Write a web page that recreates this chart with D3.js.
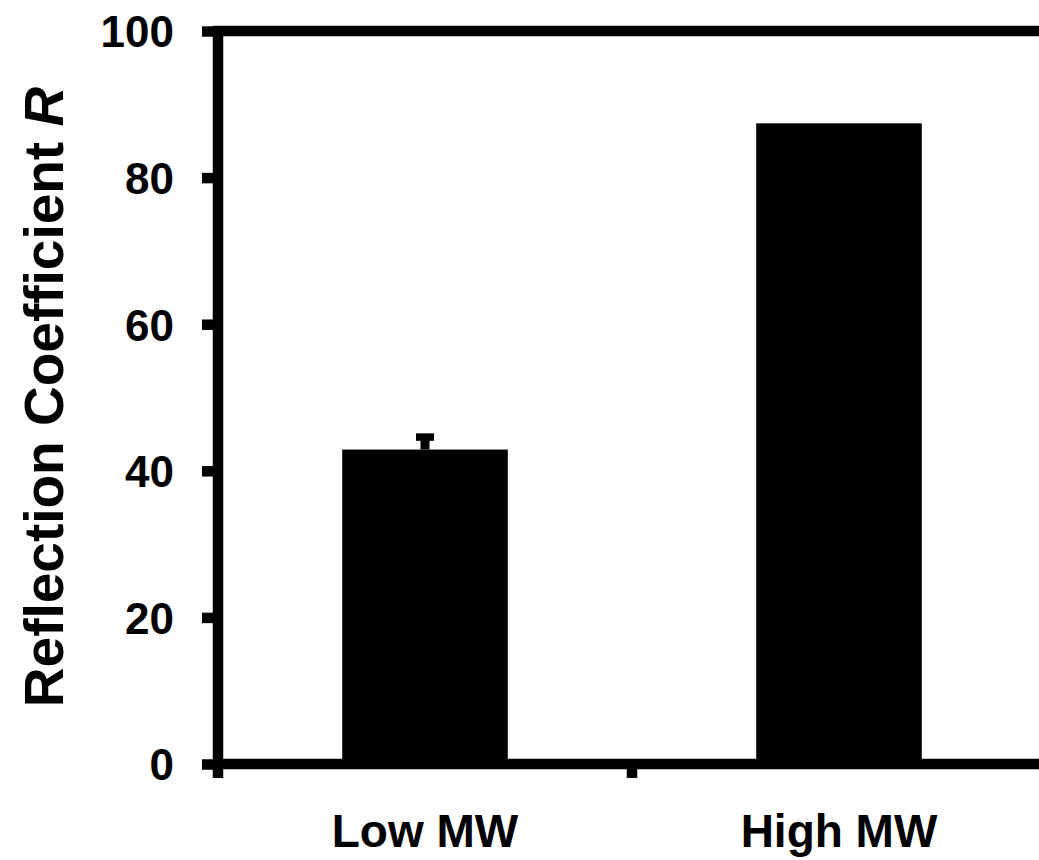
<!DOCTYPE html>
<html>
<head>
<meta charset="utf-8">
<script src="https://cdn.jsdelivr.net/npm/d3@7"></script>
<style>
  html, body { margin: 0; padding: 0; background: #fff; }
  svg { display: block; }
  text { font-family: "Liberation Sans", Arial, sans-serif; font-weight: bold; fill: #000; }
</style>
</head>
<body>
<svg id="chart" width="1039" height="860"></svg>
<script>
// Reflection coefficient for the two molecular-weight groups
const categories = ["Low MW", "High MW"];
const values = [42.9, 87.4];
const errors = [1.7, 0];
const yTicks = [0, 20, 40, 60, 80, 100];

const W = 1039, H = 860;
const plot = { left: 218, right: 1046, top: 31, bottom: 764 };
const lineW = 10.5;

const svg = d3.select("#chart");

const x = d3.scaleBand()
  .domain(categories)
  .range([plot.left, plot.right])
  .padding(0);

const y = d3.scaleLinear()
  .domain([0, 100])
  .range([plot.bottom, plot.top]);

const barW = x.bandwidth() * 0.4;

// Bars
svg.append("g")
  .selectAll("rect")
  .data(categories)
  .join("rect")
  .attr("x", (d) => x(d) + (x.bandwidth() - barW) / 2)
  .attr("y", (d, i) => y(values[i]))
  .attr("width", barW)
  .attr("height", (d, i) => y(0) - y(values[i]))
  .attr("fill", "#000");

// Error bars (upper half; the lower half sits inside the bar)
const capW = 18, capH = 7.5, stemW = 9;
const eb = svg.append("g");
categories.forEach((c, i) => {
  if (!errors[i]) return;
  const cx = x(c) + x.bandwidth() / 2;
  const yTop = y(values[i] + errors[i]);
  eb.append("rect")
    .attr("x", cx - stemW / 2)
    .attr("y", yTop)
    .attr("width", stemW)
    .attr("height", y(values[i]) - yTop)
    .attr("fill", "#000");
  eb.append("rect")
    .attr("x", cx - capW / 2)
    .attr("y", yTop - capH / 2)
    .attr("width", capW)
    .attr("height", capH)
    .attr("fill", "#000");
});

// Y axis ticks and labels
const yAxis = d3.axisLeft(y)
  .tickValues(yTicks)
  .tickSize(16)
  .tickPadding(28)
  .tickFormat(d3.format("d"));

const gy = svg.append("g")
  .attr("transform", `translate(${plot.left},0)`)
  .call(yAxis);
gy.select(".domain").remove();
gy.selectAll(".tick line")
  .attr("stroke", "#000")
  .attr("stroke-width", lineW);
gy.selectAll(".tick text")
  .attr("font-family", "Liberation Sans, Arial, sans-serif")
  .attr("font-weight", "bold")
  .attr("font-size", 44)
  .attr("fill", "#000")
  .attr("dy", "0.36em");

// X axis ticks at category boundaries
const bounds = [plot.left].concat(categories.map((c) => x(c) + x.bandwidth()));
svg.append("g")
  .selectAll("line")
  .data(bounds)
  .join("line")
  .attr("x1", (d) => d)
  .attr("x2", (d) => d)
  .attr("y1", plot.bottom)
  .attr("y2", plot.bottom + 14)
  .attr("stroke", "#000")
  .attr("stroke-width", lineW);

// Category labels
svg.append("g")
  .selectAll("text")
  .data(categories)
  .join("text")
  .attr("x", (d) => x(d) + x.bandwidth() / 2)
  .attr("y", 847)
  .attr("text-anchor", "middle")
  .attr("font-size", 46)
  .text((d) => d);

// Plot frame
svg.append("rect")
  .attr("x", plot.left)
  .attr("y", plot.top)
  .attr("width", plot.right - plot.left)
  .attr("height", plot.bottom - plot.top)
  .attr("fill", "none")
  .attr("stroke", "#000")
  .attr("stroke-width", lineW);

// Y axis title
const title = svg.append("text")
  .attr("transform", `translate(63,397) rotate(-90)`)
  .attr("text-anchor", "middle")
  .attr("font-size", 55);
title.append("tspan").text("Reflection Coefficient ");
title.append("tspan").attr("font-style", "italic").text("R");
</script>
</body>
</html>
